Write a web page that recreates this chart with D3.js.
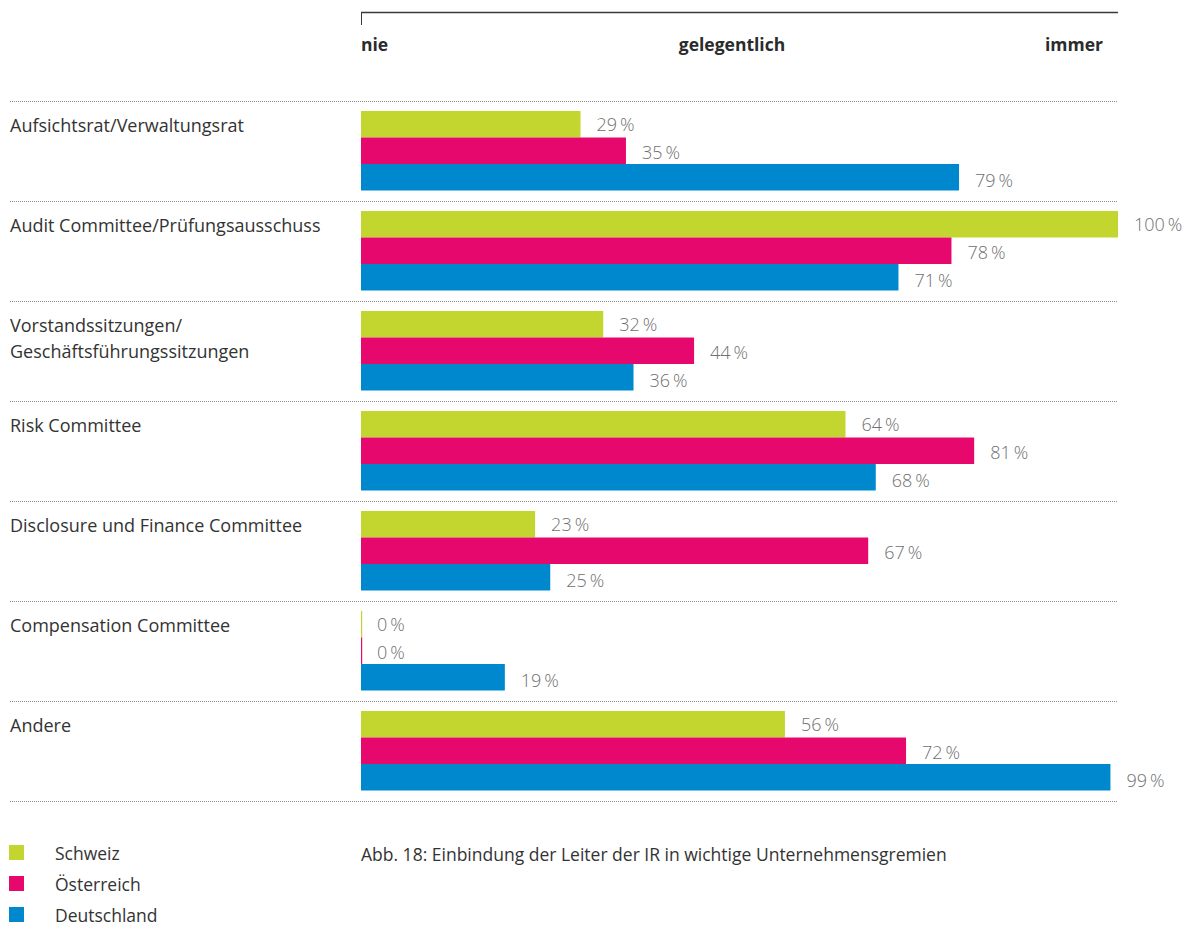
<!DOCTYPE html>
<html>
<head>
<meta charset="utf-8">
<script src="https://cdn.jsdelivr.net/npm/d3@7"></script>
<style>
  body { margin: 0; background: #fff; }
  svg { display: block; font-family: "Open Sans", "Noto Sans", sans-serif; }
</style>
</head>
<body>
<svg id="chart" width="1185" height="927"></svg>
<script>
// Gremien (categories), one row group each
const categories = [
  ["Aufsichtsrat/Verwaltungsrat"],
  ["Audit Committee/Prüfungsausschuss"],
  ["Vorstandssitzungen/", "Geschäftsführungssitzungen"],
  ["Risk Committee"],
  ["Disclosure und Finance Committee"],
  ["Compensation Committee"],
  ["Andere"]
];
const countries = ["Schweiz", "Österreich", "Deutschland"];
const colors = ["#c2d62f", "#e6086c", "#0088cf"];

// Anteil in Prozent je Land
const schweiz     = [29, 100, 32, 64, 23, 0, 56];
const oesterreich = [35, 78, 44, 81, 67, 0, 72];
const deutschland = [79, 71, 36, 68, 25, 19, 99];
const series = [schweiz, oesterreich, deutschland];

const scaleLabels = ["nie", "gelegentlich", "immer"];
const caption = "Abb. 18: Einbindung der Leiter der IR in wichtige Unternehmensgremien";

const svg = d3.select("#chart");
const x = d3.scaleLinear().domain([0, 100]).range([361, 1118]);
const yGroup = d3.scaleBand().domain(d3.range(categories.length)).range([101, 801]).paddingInner(0);
const yBar = d3.scaleBand().domain(d3.range(countries.length)).range([10, 89.5]);

// top scale line with start tick
svg.append("line").attr("x1", x(0)).attr("x2", x(100)).attr("y1", 12.5).attr("y2", 12.5)
  .attr("stroke", "#3a3a3a").attr("stroke-width", 1.3);
svg.append("line").attr("x1", x(0) + 0.5).attr("x2", x(0) + 0.5).attr("y1", 12).attr("y2", 25)
  .attr("stroke", "#3a3a3a").attr("stroke-width", 1);

const anchors = ["start", "middle", "end"];
const scalePos = [x(0), 732, 1103];
svg.selectAll("text.scale").data(scaleLabels).join("text")
  .attr("class", "scale")
  .attr("x", (d, i) => scalePos[i])
  .attr("y", 51)
  .attr("text-anchor", (d, i) => anchors[i])
  .attr("font-size", 17.5).attr("font-weight", "bold").attr("fill", "#2b2b2b")
  .text(d => d);

// dotted separators
svg.selectAll("line.sep").data(d3.range(categories.length + 1)).join("line")
  .attr("class", "sep")
  .attr("x1", 10).attr("x2", x(100))
  .attr("y1", i => 101.5 + i * yGroup.step()).attr("y2", i => 101.5 + i * yGroup.step())
  .attr("stroke", "#8a8a8a").attr("stroke-width", 1).attr("stroke-dasharray", "1,1");

const groups = svg.selectAll("g.cat").data(categories).join("g")
  .attr("class", "cat")
  .attr("transform", (d, i) => `translate(0,${yGroup(i)})`);

groups.each(function(lines) {
  d3.select(this).selectAll("text.cat").data(lines).join("text")
    .attr("class", "cat")
    .attr("x", 10)
    .attr("y", (d, j) => 31 + j * 26)
    .attr("font-size", 18).attr("fill", "#333")
    .text(d => d);
});

groups.each(function(lines, ci) {
  const g = d3.select(this);
  const rows = countries.map((c, k) => ({ k, v: series[k][ci] }));
  g.selectAll("rect").data(rows).join("rect")
    .attr("x", x(0))
    .attr("y", d => yBar(d.k))
    .attr("width", d => Math.max(1.2, x(d.v) - x(0)))
    .attr("height", yBar.bandwidth())
    .attr("fill", d => colors[d.k]);
  g.selectAll("text.val").data(rows).join("text")
    .attr("class", "val")
    .attr("x", d => x(d.v) + 16)
    .attr("y", d => yBar(d.k) + yBar.bandwidth() / 2 + 7 + d.k * 1.5)
    .attr("font-size", 18).attr("font-weight", 300).attr("fill", "#707070")
    .text(d => d.v + "\u2009%");
});

// legend
const legend = svg.selectAll("g.leg").data(countries).join("g")
  .attr("class", "leg")
  .attr("transform", (d, i) => `translate(9,${845 + i * 31})`);
legend.append("rect").attr("width", 15).attr("height", 15).attr("fill", (d, i) => colors[i]);
legend.append("text").attr("x", 46).attr("y", 15).attr("font-size", 17.5).attr("fill", "#333").text(d => d);

svg.append("text").attr("x", 361).attr("y", 861).attr("font-size", 17.5).attr("fill", "#333").text(caption);
</script>
</body>
</html>
